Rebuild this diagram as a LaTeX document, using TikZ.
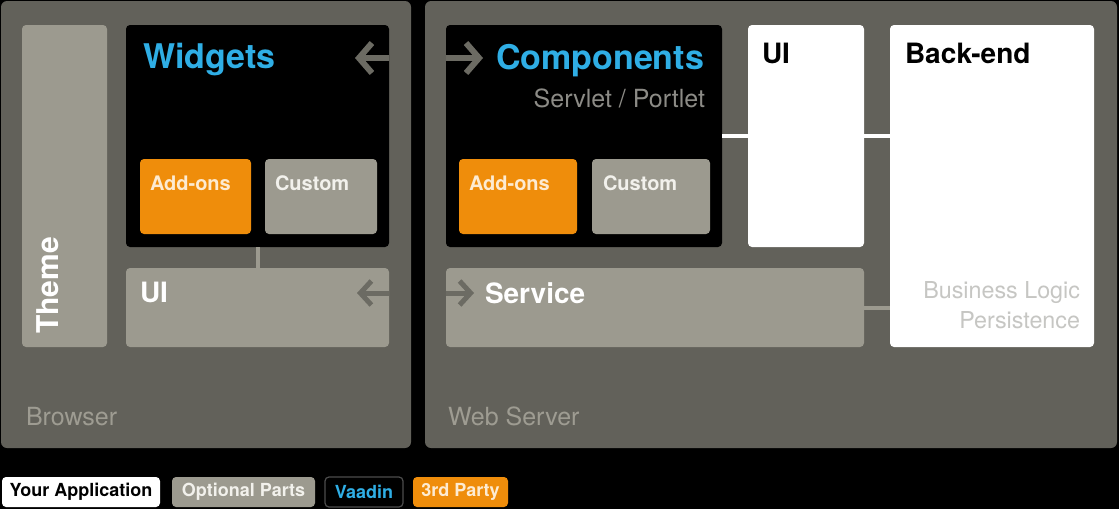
\documentclass[tikz,border=0pt]{standalone}
\usepackage{fontspec}
\setmainfont{TeX Gyre Heros}
\usetikzlibrary{arrows.meta,calc}
\definecolor{panel}{HTML}{62615A}
\definecolor{lgray}{HTML}{9C9A8F}
\definecolor{vorange}{HTML}{EF8D0B}
\definecolor{vblue}{HTML}{2FAEE5}
\definecolor{arrowgray}{HTML}{6C6B63}
\definecolor{paneltext}{HTML}{9E9C92}
\definecolor{subtext}{HTML}{8C8B86}
\definecolor{bltext}{HTML}{C6C6C3}
\definecolor{softwhite}{HTML}{F2F1EC}
\definecolor{orangetext}{HTML}{FDEBD2}
\begin{document}
\begin{tikzpicture}[x=1pt,y=-1pt,
  box/.style={inner sep=0pt, outer sep=0pt, rounded corners=4pt, anchor=north west},
  panelbox/.style={box, fill=panel, rounded corners=6pt},
  lbl/.style={anchor=base west, inner sep=0pt, outer sep=0pt},
  rlbl/.style={anchor=base east, inner sep=0pt, outer sep=0pt},
  bigtitle/.style={lbl, font=\bfseries\fontsize{34}{34}\selectfont, text=vblue},
  midtitle/.style={lbl, font=\bfseries\fontsize{28}{28}\selectfont},
  smalltitle/.style={lbl, font=\bfseries\fontsize{20}{20}\selectfont},
  plain/.style={font=\fontsize{25}{25}\selectfont},
  arr/.style={draw=arrowgray, line width=6pt, -{Straight Barb[length=13pt, width=30pt]}},
  arrs/.style={draw=arrowgray, line width=5pt, -{Straight Barb[length=11pt, width=24pt]}},
  wconn/.style={draw=white, line width=4pt},
  gconn/.style={draw=lgray, line width=4pt},
  legbox/.style={inner sep=0pt, outer sep=0pt, rounded corners=4pt, anchor=north west,
     minimum height=30pt, font=\bfseries\fontsize{18}{18}\selectfont}
]
\fill[black] (0,0) rectangle (1119,509);
\useasboundingbox (0,0) rectangle (1119,509);

% panels
\node[panelbox, minimum width=410pt, minimum height=447pt] (browser) at (1,1) {};
\node[panelbox, minimum width=692pt, minimum height=447pt] (webserver) at (425,1) {};
\node[lbl, plain, text=paneltext] (browsertext) at (26,425) {Browser};
\node[lbl, plain, text=paneltext] (webservertext) at (448,425) {Web Server};

% browser side
\node[box, fill=lgray, minimum width=85pt, minimum height=322pt] (theme) at (22,25) {};
\node[anchor=base west, inner sep=0pt, rotate=90, font=\bfseries\fontsize{30}{30}\selectfont, text=white] (themetext) at (58,334) {Theme};

\node[box, fill=black, minimum width=263pt, minimum height=222pt] (widgets) at (126,25) {};
\node[bigtitle] (widgetstext) at (143,68) {Widgets};
\node[box, fill=vorange, minimum width=111pt, minimum height=75pt] (addonsl) at (140,159) {};
\node[smalltitle, text=orangetext] (addonsltext) at (150,190) {Add-ons};
\node[box, fill=lgray, minimum width=112pt, minimum height=75pt] (customl) at (265,159) {};
\node[smalltitle, text=softwhite] (customltext) at (275,190) {Custom};

\node[box, fill=lgray, minimum width=263pt, minimum height=79pt] (uil) at (126,268) {};
\node[midtitle, text=white] (uiltext) at (140,302) {UI};

% web server side
\node[box, fill=black, minimum width=276pt, minimum height=222pt] (comp) at (446,25) {};
\node[bigtitle] (comptext) at (496,69) {Components};
\node[rlbl, font=\fontsize{25}{25}\selectfont, text=subtext] (servlet) at (705,107) {Servlet / Portlet};
\node[box, fill=vorange, minimum width=118pt, minimum height=75pt] (addonsr) at (459,159) {};
\node[smalltitle, text=orangetext] (addonsrtext) at (469,190) {Add-ons};
\node[box, fill=lgray, minimum width=118pt, minimum height=75pt] (customr) at (592,159) {};
\node[smalltitle, text=softwhite] (customrtext) at (603,190) {Custom};

\node[box, fill=lgray, minimum width=418pt, minimum height=79pt] (service) at (446,268) {};
\node[midtitle, text=white] (servicetext) at (485,303) {Service};

\node[box, fill=white, minimum width=116pt, minimum height=222pt] (uir) at (748,25) {};
\node[midtitle, text=black] (uirtext) at (762,63) {UI};

\node[box, fill=white, minimum width=204pt, minimum height=322pt] (backend) at (890,25) {};
\node[midtitle, text=black] (backendtext) at (905,63) {Back-end};
\node[rlbl, font=\fontsize{23.3}{23.3}\selectfont, text=bltext] (bl1) at (1080,298) {Business Logic};
\node[rlbl, font=\fontsize{23.3}{23.3}\selectfont, text=bltext] (bl2) at (1080,328) {Persistence};

% connectors
\draw[gconn] (widgets.south) -- (uil.north);
\draw[wconn] (comp.east) -- (uir.west);
\draw[wconn] (uir.east) -- (uir.east -| backend.west);
\draw[gconn] (service.east) -- (service.east -| backend.west);

% arrows
\coordinate (wtip) at (355,58);
\coordinate (ctip) at (483,58);
\coordinate (utip) at (357,293);
\coordinate (stip) at (474,293);
\draw[arr] (widgets.east |- wtip) -- (wtip);
\draw[arr] (comp.west |- ctip) -- (ctip);
\draw[arrs] (uil.east |- utip) -- (utip);
\draw[arrs] (service.west |- stip) -- (stip);

% legend
\node[legbox, fill=white, text=black, minimum width=158pt] (legapp) at (2,477) {Your Application};
\node[legbox, fill=lgray, text=softwhite, minimum width=143pt] (legopt) at (172,477) {Optional Parts};
\node[legbox, fill=black, draw=black!70!white, line width=1.2pt, text=vblue, minimum width=78pt] (legvaadin) at (325,477) {Vaadin};
\node[legbox, fill=vorange, text=orangetext, minimum width=95pt] (legthird) at (413,477) {3rd Party};
\end{tikzpicture}
\end{document}
